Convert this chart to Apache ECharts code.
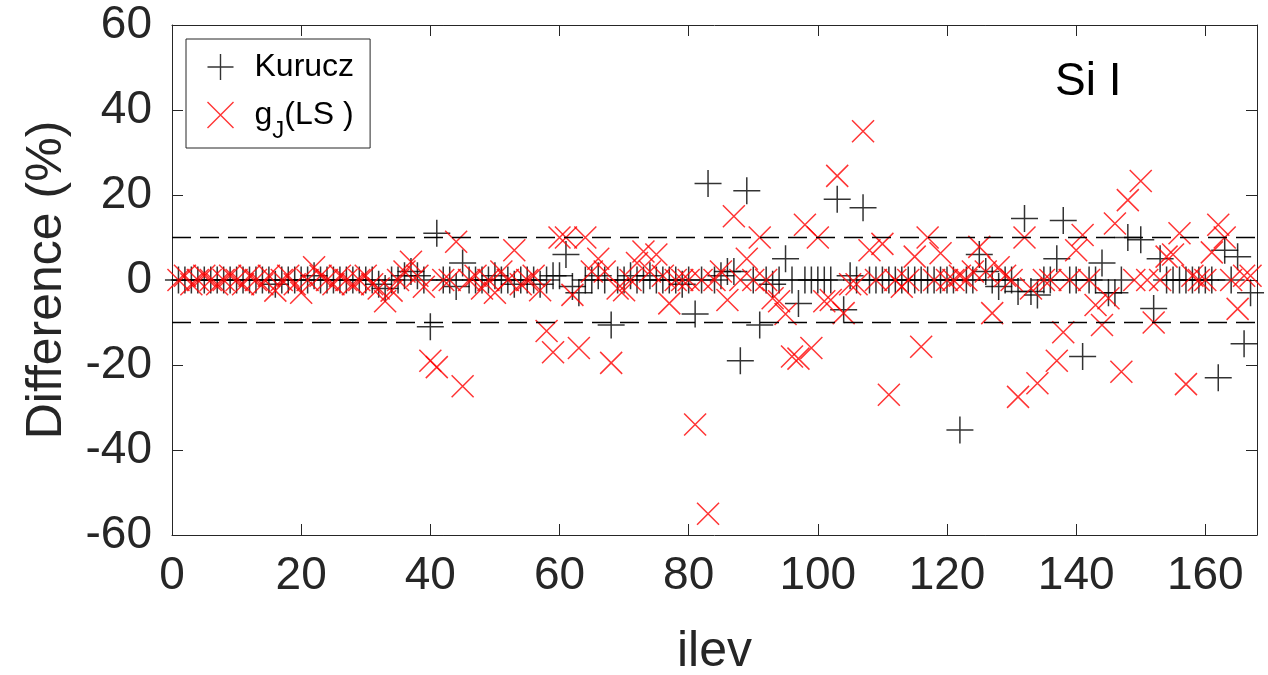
<!DOCTYPE html>
<html>
<head>
<meta charset="utf-8">
<script src="https://cdn.jsdelivr.net/npm/echarts@6/dist/echarts.min.js"></script>
<style>html,body{margin:0;padding:0;background:#fff}#c{width:1268px;height:675px}</style>
</head>
<body>
<div id="c"></div>
<script>
// Kurucz differences (%) for ilev = 1..168 (null = no point)
const kurucz = [
  0,0,0,0,0,0,0,0,0,0,
  0,0,0,0,0,-1,0,0,0,0,
  0,1,0,0,0,0,0,0,0,0,
  0,-1,-2,0,0,1,2,1,0,-11,
  11,0,0,-1.5,4,0,0,0,0,1,
  0,0,-1,0,0,0,-1,0,1,1,
  6,-1.5,-3,0,0,1,0,-10.6,0,0,
  1,0,0,1,0,0,0,0,-1,0,
  -8,0,22.7,0,1,2,2,-19,21,0,
  -10.6,0,-1,0,5,0,-5.5,0,0,0,
  0,0,19,-7,1,0,17,0,0,0,
  0,0,0,0,0,0,0,0,0,0,
  0,-35.3,0,0,6,2,0,-1.5,0,0,
  -2.7,14.5,-2.7,-3.5,0,0,5,14,0,0,
  -18,0,0,4,-3,-3,0,10,null,9.5,
  null,-6.7,5,0,0,0,0,0,0,0,
  0,-23,7,0,5.5,-15,-3,null
];
// g_J(LS) differences (%) for ilev = 1..168
const gjLS = [
  0,1,-1,0,1,0,-1,0,1,0,
  -1,1,0,-1,1,-2.5,0,1,-1,-3,
  0,3,1,0,-1,1,0,-1,0,1,
  -1,-2,-5,-2.5,0,2,4.3,1,-1.6,-19,
  -20.5,0,0,9,-25,0,1,-2,0,-3,
  2,0,7,-1,0,1,-2.4,-12,-17,10,
  10,-3.5,-16,10,2,5,2,-19.5,-2,-2.4,
  0,4,6.7,2,6,1,-5.5,0,0,0,
  -34,0,-55,0,2,-4.7,15,0,5,0,
  10,0,-4.3,-5,-8,-18,-18.5,13,-16,10,
  -5,-4.7,24.5,-7.8,-1,-1,35,7,0,8.5,
  -27,0,-1.6,0,5.5,-15.7,10,0,6.3,0,
  0,1,0,2,7.8,2,-7.8,3,1,0,
  -27.5,10,-2,-24.3,0,0,-19,-12.3,0,7,
  10.6,0,-5.9,-10.6,-4.3,13.3,-21.6,18.8,0,23.3,
  0,-10,0,5.5,6,11,-24.5,1,0,0,
  6.5,13,10,0,-6.8,1,1,null
];
const xTicks = [0, 168, 20];      // min, max, interval
const yTicks = [-60, 60, 20];
const refLines = [10, -10];
const seriesNames = ['Kurucz', 'gJ(LS)'];

function pairs(arr){
  const out = [];
  arr.forEach((v,i)=>{ if(v!==null) out.push([i+1, v]); });
  return out;
}

const FONT = 'Liberation Sans, Arial, Helvetica, sans-serif';
const AX = '#262626';
const plusPath = 'path://M0,10L20,10M10,0L10,20';
const crossPath = 'path://M0,0L20,20M20,0L0,20';

const axisLine = {show:true, onZero:false, lineStyle:{color:AX, width:1}};
const axisTick = {show:true, inside:true, length:11, lineStyle:{color:AX, width:1}};

const chart = echarts.init(document.getElementById('c'), null, {renderer:'canvas'});
chart.setOption({
  animation:false,
  backgroundColor:'#fff',
  textStyle:{fontFamily:FONT},
  grid:{left:172, right:11, top:25, bottom:140, containLabel:false, outerBoundsMode:'none'},
  title:{text:'Si I', left:1050, top:54,
    textStyle:{fontFamily:FONT, fontSize:46, fontWeight:'normal', color:'#000'}},
  legend:{
    orient:'vertical', left:186, top:39,
    backgroundColor:'#fff', borderColor:AX, borderWidth:1,
    padding:[12,16,5,19], itemGap:4, itemWidth:26, itemHeight:26,
    data:[
      {name:seriesNames[0], icon:plusPath, itemStyle:{color:'none', borderColor:'#000', borderWidth:1.4}},
      {name:seriesNames[1], icon:crossPath, itemStyle:{color:'none', borderColor:'#ff0000', borderWidth:1.4}}
    ],
    formatter:function(name){
      return name==='Kurucz' ? '{t|Kurucz}' : '{t|g}{s|J}{t|(LS )}';
    },
    textStyle:{
      padding:[0,0,0,16],
      rich:{
        t:{fontSize:32, lineHeight:36, color:'#000', fontFamily:FONT},
        s:{fontSize:24, lineHeight:24, color:'#000', fontFamily:FONT, padding:[32,0,0,0]}
      }
    }
  },
  xAxis:[{
    type:'value', min:xTicks[0], max:xTicks[1], interval:xTicks[2],
    name:'ilev', nameLocation:'middle', nameGap:92,
    nameTextStyle:{fontFamily:FONT, fontSize:50, color:AX},
    axisLine:axisLine, axisTick:axisTick,
    axisLabel:{fontFamily:FONT, fontSize:46, color:AX, margin:18, showMaxLabel:false},
    splitLine:{show:false}
  },{
    type:'value', position:'top', min:xTicks[0], max:xTicks[1], interval:xTicks[2],
    axisLine:axisLine, axisTick:axisTick,
    axisLabel:{show:false}, splitLine:{show:false}
  }],
  yAxis:[{
    type:'value', min:yTicks[0], max:yTicks[1], interval:yTicks[2],
    name:'Difference (%)', nameLocation:'middle', nameGap:100,
    nameTextStyle:{fontFamily:FONT, fontSize:50, color:AX},
    axisLine:axisLine, axisTick:axisTick,
    axisLabel:{fontFamily:FONT, fontSize:46, color:AX, margin:20},
    splitLine:{show:false}
  },{
    type:'value', position:'right', min:yTicks[0], max:yTicks[1], interval:yTicks[2],
    axisLine:axisLine, axisTick:axisTick,
    axisLabel:{show:false}, splitLine:{show:false}
  }],
  series:[{
    name:seriesNames[0], type:'scatter', data:pairs(kurucz),
    symbol:plusPath, symbolSize:27, z:2,
    itemStyle:{color:'none', borderColor:'#000', borderWidth:1.5},
    markLine:{
      silent:true, symbol:'none', label:{show:false},
      lineStyle:{color:'#000', type:[19,9], width:1.3},
      data:refLines.map(v=>({yAxis:v}))
    }
  },{
    name:seriesNames[1], type:'scatter', data:pairs(gjLS),
    symbol:crossPath, symbolSize:22, z:3,
    itemStyle:{color:'none', borderColor:'#ff0000', borderWidth:1.5}
  }]
});
</script>
</body>
</html>
